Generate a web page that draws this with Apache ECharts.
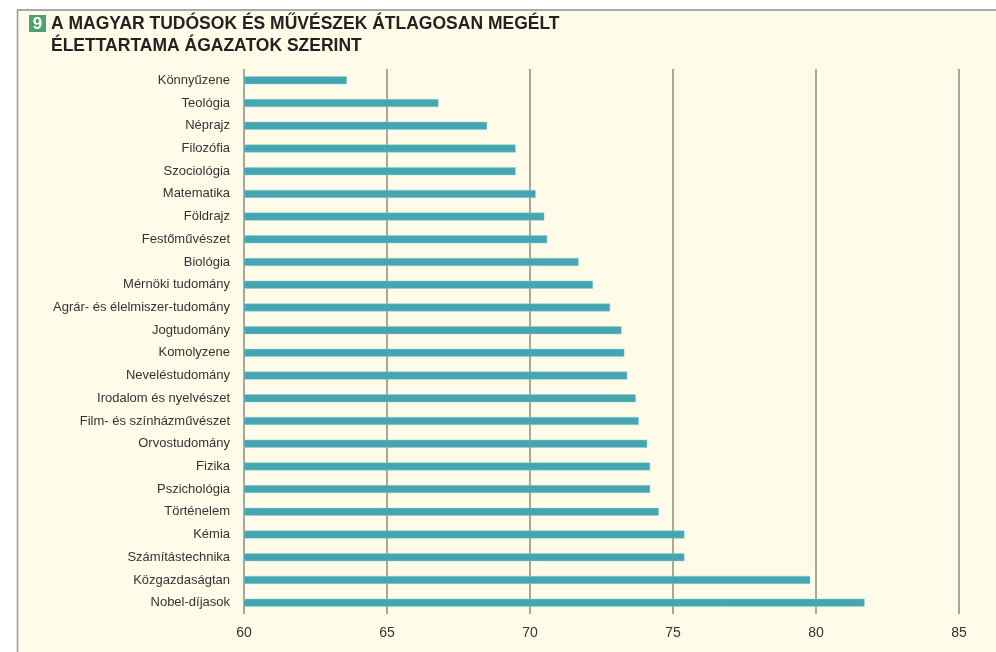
<!DOCTYPE html>
<html>
<head>
<meta charset="utf-8">
<script src="https://cdn.jsdelivr.net/npm/echarts@6/dist/echarts.min.js"></script>
<style>
html,body{margin:0;padding:0;background:#fff;}
#chart{width:996px;height:652px;}
</style>
</head>
<body>
<div id="chart"></div>
<script>
const categories = [
  'Könnyűzene','Teológia','Néprajz','Filozófia','Szociológia','Matematika','Földrajz',
  'Festőművészet','Biológia','Mérnöki tudomány','Agrár- és élelmiszer-tudomány',
  'Jogtudomány','Komolyzene','Neveléstudomány','Irodalom és nyelvészet',
  'Film- és színházművészet','Orvostudomány','Fizika','Pszichológia','Történelem',
  'Kémia','Számítástechnika','Közgazdaságtan','Nobel-díjasok'
];
const lifespan = [
  63.6, 66.8, 68.5, 69.5, 69.5, 70.2, 70.5,
  70.6, 71.7, 72.2, 72.8,
  73.2, 73.3, 73.4, 73.7,
  73.8, 74.1, 74.2, 74.2, 74.5,
  75.4, 75.4, 79.8, 81.7
];
const titleNumber = '9';
const titleLines = ['A MAGYAR TUDÓSOK ÉS MŰVÉSZEK ÁTLAGOSAN MEGÉLT', 'ÉLETTARTAMA ÁGAZATOK SZERINT'];
const xMin = 60, xMax = 85, xStep = 5;

const chart = echarts.init(document.getElementById('chart'));
chart.setOption({
  backgroundColor: '#ffffff',
  animation: false,
  graphic: [
    { type: 'rect', z: -10, shape: { x: 17, y: 10, width: 990, height: 650 }, style: { fill: '#FFFBE9' } },
    { type: 'line', z: -5, shape: { x1: 17, y1: 10, x2: 996, y2: 10 }, style: { stroke: '#aaaaaa', lineWidth: 2 } },
    { type: 'line', z: -5, shape: { x1: 17.5, y1: 10, x2: 17.5, y2: 652 }, style: { stroke: '#999999', lineWidth: 1.5 } },
    { type: 'rect', shape: { x: 29, y: 15, width: 17, height: 17 }, style: { fill: '#4CA36B' } },
    { type: 'text', style: { x: 37.5, y: 24, text: titleNumber, fill: '#ffffff', font: 'bold 17px "Liberation Sans", Arial, sans-serif', align: 'center', verticalAlign: 'middle' } },
    { type: 'text', style: { x: 51, y: 24, text: titleLines[0], fill: '#222222', font: 'bold 17.5px "Liberation Sans", Arial, sans-serif', verticalAlign: 'middle' } },
    { type: 'text', style: { x: 51, y: 46, text: titleLines[1], fill: '#222222', font: 'bold 17.5px "Liberation Sans", Arial, sans-serif', verticalAlign: 'middle' } }
  ],
  grid: { left: 244, top: 69, width: 715, height: 545, containLabel: false },
  xAxis: {
    type: 'value', min: xMin, max: xMax, interval: xStep,
    axisLine: { show: false }, axisTick: { show: false },
    axisLabel: { color: '#333', fontSize: 14, margin: 12, fontFamily: '"Liberation Sans", Arial, sans-serif' },
    splitLine: { show: true, showMinLine: true, showMaxLine: true, lineStyle: { color: '#8a8a86', width: 1.5 } }
  },
  yAxis: {
    type: 'category', data: categories, inverse: true,
    axisLine: { show: false }, axisTick: { show: false }, splitLine: { show: false },
    axisLabel: { color: '#333', fontSize: 13, margin: 14, fontFamily: '"Liberation Sans", Arial, sans-serif' }
  },
  series: [{
    type: 'bar', data: lifespan, barWidth: 8,
    itemStyle: { color: '#45A5B0', borderColor: '#8fd0d4', borderWidth: 0.5 }
  }]
});
</script>
</body>
</html>
